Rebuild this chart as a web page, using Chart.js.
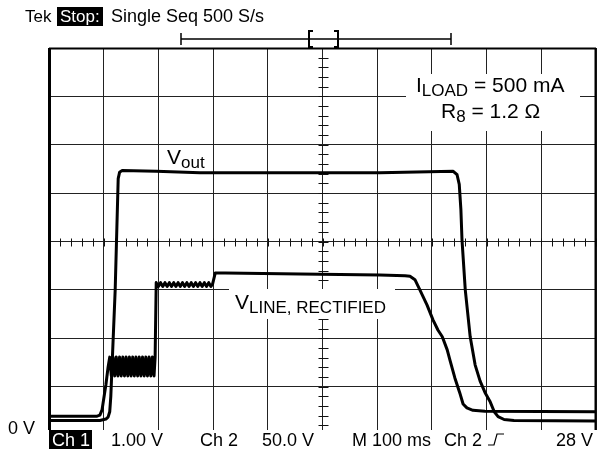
<!DOCTYPE html>
<html>
<head>
<meta charset="utf-8">
<script src="https://cdn.jsdelivr.net/npm/chart.js@4.4.1/dist/chart.umd.min.js"></script>
<style>
    html, body { margin: 0; padding: 0; background: #fff; }
    #scope { display: block; }
</style>
</head>
<body>
<canvas id="scope" width="603" height="455"></canvas>
<script>
// Trục thời gian tính bằng ms (100 ms/div), trục dọc tính theo ô lưới (0..8)
const timeRange = [0, 1000];
const levelRange = [0, 8];

// V_out (trace trên) : [ms, div]
const vOutPoints = [
    [0, 0.30], [93, 0.30], [104, 0.33], [108, 0.37], [111, 0.48], [113, 0.80],
    [121, 3.00], [126.5, 5.30], [129, 5.43], [134, 5.47], [196, 5.45], [276, 5.42],
    [404, 5.42], [605, 5.42], [739, 5.45], [746, 5.38], [750, 5.18], [753, 4.66],
    [755, 4.04], [761, 3.00], [770, 2.03], [779, 1.45], [788, 1.12], [797, 0.88],
    [806, 0.70], [814, 0.48], [821, 0.38], [832, 0.32], [850, 0.30], [1000, 0.29]
];

// V_LINE, RECTIFIED (trace dưới) : [ms, div]
const vLinePoints = [
    [0, 0.39], [88, 0.39], [93, 0.41], [97, 0.52], [104, 1.04], [108, 1.40], [111, 1.61],
    [114, 1.22], [117, 1.61], [120, 1.22], [123, 1.61], [126, 1.22], [129, 1.61],
    [132, 1.22], [135, 1.61], [138, 1.22], [141, 1.61], [144, 1.22], [147, 1.61],
    [150, 1.22], [153, 1.61], [156, 1.22], [159, 1.61], [162, 1.22], [165, 1.61],
    [168, 1.22], [171, 1.61], [174, 1.22], [177, 1.61], [180, 1.22], [183, 1.61],
    [186, 1.22], [189, 1.61], [192, 1.22], [194, 1.61], [196, 3.15],
    [200, 3.07], [204, 3.15], [208, 3.07], [212, 3.15], [216, 3.07], [220, 3.15],
    [224, 3.07], [228, 3.15], [232, 3.07], [236, 3.15], [240, 3.07], [244, 3.15],
    [248, 3.07], [252, 3.15], [256, 3.07], [260, 3.15], [264, 3.07], [268, 3.15],
    [272, 3.07], [276, 3.15], [280, 3.07], [284, 3.15], [288, 3.07], [292, 3.15],
    [296, 3.07], [299, 3.12], [304, 3.35], [322, 3.35], [459, 3.33], [605, 3.31],
    [651, 3.29], [660, 3.28], [669, 3.21], [678, 3.00], [691, 2.69], [702, 2.38],
    [711, 2.17], [719, 2.03], [728, 1.76], [733, 1.55], [742, 1.18], [751, 0.87],
    [757, 0.64], [764, 0.56], [775, 0.51], [797, 0.49], [1000, 0.48]
];

const headerLabels = ['Tek', 'Stop:', 'Single Seq 500 S/s'];
const footerLabels = ['Ch 1', '1.00 V', 'Ch 2', '50.0 V', 'M 100 ms', 'Ch 2', '28 V'];
const groundLabel = '0 V';

const FONT = '"Liberation Sans", Arial, sans-serif';

// Vẽ một dòng chữ có chỉ số dưới: parts = [[text, isSub], ...]
function drawRun(ctx, x, baseline, parts, size, subSize) {
    let cx = x;
    parts.forEach(([txt, isSub]) => {
        ctx.font = `${isSub ? subSize : size}px ${FONT}`;
        ctx.fillText(txt, cx, baseline + (isSub ? 4 : 0));
        cx += ctx.measureText(txt).width;
    });
}

const scopeDecor = {
    id: 'scopeDecor',
    beforeDatasetsDraw(chart) {
        const { ctx, chartArea: a, scales: { x, y } } = chart;
        ctx.save();

        // Vạch chia nhỏ trên trục giữa
        const cx = Math.round(x.getPixelForValue(500)) + 0.5;
        const cy = Math.round(y.getPixelForValue(4)) + 0.5;
        ctx.strokeStyle = '#111';
        ctx.lineWidth = 1;
        ctx.beginPath();
        for (let t = timeRange[0]; t <= timeRange[1]; t += 20) {
            const px = Math.round(x.getPixelForValue(t)) + 0.5;
            ctx.moveTo(px, cy - 4);
            ctx.lineTo(px, cy + 4);
        }
        for (let i = 0; i <= 40; i++) {
            const py = Math.round(y.getPixelForValue(i * 0.2)) + 0.5;
            ctx.moveTo(cx - 5, py);
            ctx.lineTo(cx + 5, py);
        }
        ctx.stroke();

        // Khung
        ctx.strokeStyle = '#000';
        ctx.lineWidth = 3;
        ctx.beginPath();
        ctx.moveTo(a.left + 0.5, a.top);
        ctx.lineTo(a.left + 0.5, a.bottom);
        ctx.stroke();
        ctx.lineWidth = 2;
        ctx.beginPath();
        ctx.moveTo(a.left, a.top + 0.5);
        ctx.lineTo(a.right, a.top + 0.5);
        ctx.moveTo(a.right - 0.5, a.top);
        ctx.lineTo(a.right - 0.5, a.bottom);
        ctx.stroke();

        // Nền trắng sau các nhãn
        ctx.fillStyle = '#fff';
        ctx.fillRect(406, 74, 174, 57);
        ctx.fillRect(229, 289, 166, 30);
        ctx.restore();
    },
    afterDraw(chart) {
        const { ctx } = chart;
        ctx.save();
        ctx.fillStyle = '#000';
        ctx.textBaseline = 'alphabetic';

        // Nhãn trong vùng vẽ
        drawRun(ctx, 416, 92, [['I', false], ['LOAD', true], [' = 500 mA', false]], 21, 17);
        drawRun(ctx, 441, 118, [['R', false], ['8', true], [' = 1.2 \u03A9', false]], 21, 17);
        drawRun(ctx, 167, 164, [['V', false], ['out', true]], 21, 17);
        drawRun(ctx, 235, 309, [['V', false], ['LINE, RECTIFIED', true]], 21, 17);

        // Tiêu đề trên
        ctx.font = `17px ${FONT}`;
        ctx.fillText(headerLabels[0], 25, 22);
        ctx.fillRect(57, 7, 46, 19);
        ctx.fillStyle = '#fff';
        ctx.fillText(headerLabels[1], 60, 22);
        ctx.fillStyle = '#000';
        ctx.font = `18px ${FONT}`;
        ctx.fillText(headerLabels[2], 111, 22);

        // Thanh vị trí bản ghi
        ctx.strokeStyle = '#000';
        ctx.lineWidth = 1.5;
        ctx.beginPath();
        ctx.moveTo(181, 39); ctx.lineTo(451, 39);
        ctx.moveTo(181, 33); ctx.lineTo(181, 45);
        ctx.moveTo(451, 33); ctx.lineTo(451, 45);
        ctx.stroke();
        ctx.lineWidth = 2;
        ctx.beginPath();
        ctx.moveTo(313, 31); ctx.lineTo(309, 31); ctx.lineTo(309, 47); ctx.lineTo(313, 47);
        ctx.moveTo(334, 31); ctx.lineTo(338, 31); ctx.lineTo(338, 47); ctx.lineTo(334, 47);
        ctx.stroke();

        // Dải chữ dưới
        ctx.fillStyle = '#fff';
        ctx.fillRect(40, 430, 563, 25);
        ctx.fillStyle = '#000';
        ctx.font = `18px ${FONT}`;
        ctx.fillText(groundLabel, 8, 434);

        ctx.font = `18px ${FONT}`;
        ctx.fillRect(49, 430, 43, 19);
        ctx.fillStyle = '#fff';
        ctx.fillText(footerLabels[0], 52, 446);
        ctx.fillStyle = '#000';
        ctx.fillText(footerLabels[1], 111, 446);
        ctx.fillText(footerLabels[2], 200, 446);
        ctx.fillText(footerLabels[3], 262, 446);
        ctx.fillText(footerLabels[4], 352, 446);
        ctx.fillText(footerLabels[5], 444, 446);
        ctx.textAlign = 'right';
        ctx.fillText(footerLabels[6], 593, 446);

        // Ký hiệu sườn lên của trigger
        ctx.lineWidth = 1.2;
        ctx.beginPath();
        ctx.moveTo(488, 445); ctx.lineTo(494, 445); ctx.lineTo(497, 434); ctx.lineTo(504, 434);
        ctx.stroke();
        ctx.restore();
    }
};

const toXY = pts => pts.map(([t, v]) => ({ x: t, y: v }));

new Chart(document.getElementById('scope'), {
    type: 'line',
    data: {
        datasets: [
            { label: 'Vout', data: toXY(vOutPoints) },
            { label: 'VLINE', data: toXY(vLinePoints) }
        ]
    },
    options: {
        responsive: false,
        animation: false,
        devicePixelRatio: 1,
        layout: { padding: { left: 49, right: 7, top: 48, bottom: 20 } },
        elements: {
            point: { radius: 0 },
            line: { borderColor: '#000', borderWidth: 3, tension: 0, borderJoinStyle: 'round', borderCapStyle: 'round' }
        },
        plugins: { legend: { display: false }, tooltip: { enabled: false } },
        scales: {
            x: {
                type: 'linear', min: timeRange[0], max: timeRange[1],
                ticks: { display: false, stepSize: 100 },
                grid: { color: '#222', lineWidth: 1, drawTicks: false },
                border: { display: false }
            },
            y: {
                type: 'linear', min: levelRange[0], max: levelRange[1],
                ticks: { display: false, stepSize: 1 },
                grid: { color: '#222', lineWidth: 1, drawTicks: false },
                border: { display: false }
            }
        }
    },
    plugins: [scopeDecor]
});
</script>
</body>
</html>
